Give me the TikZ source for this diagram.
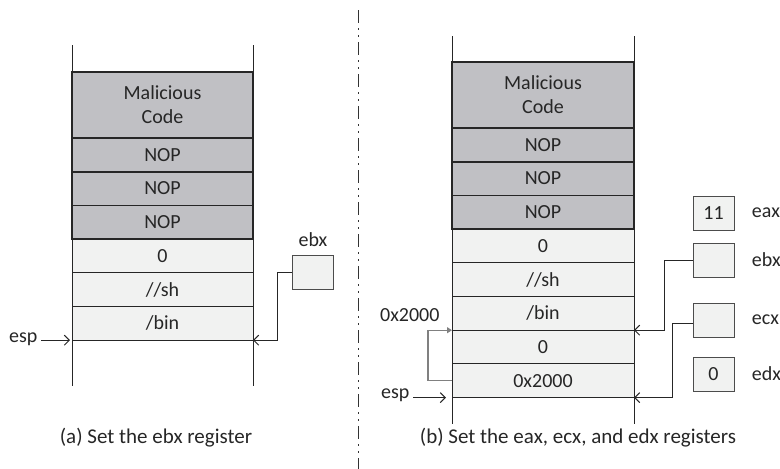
\documentclass[tikz,border=0pt]{standalone}
\usepackage{fontspec}
\setmainfont{Carlito}
\usetikzlibrary{arrows.meta,positioning}
\definecolor{darkcell}{RGB}{192,192,196}
\definecolor{lightcell}{RGB}{241,242,241}

\begin{document}
\begin{tikzpicture}[x=1pt,y=-1pt,font=\fontsize{20}{24}\selectfont,text=black!85]
    \tikzstyle{cell}=[rectangle,draw=black!85,outer sep=0pt,inner sep=0pt,align=center,minimum width=181pt,minimum height=33.7pt]
    \tikzstyle{dark}=[cell,fill=darkcell,line width=1.8pt]
    \tikzstyle{light}=[cell,fill=lightcell,line width=0.9pt]
    \tikzstyle{reg}=[rectangle,draw=black!70,fill=lightcell,line width=0.9pt,minimum width=41pt,minimum height=34pt,inner sep=0pt]
    \tikzstyle{wall}=[draw=black!85,line width=1pt]
    \tikzstyle{conn}=[draw=black!85,line width=1pt,-{Straight Barb[length=5pt,width=10pt]}]
    \tikzstyle{back}=[draw=black!50,line width=1.2pt,-{Triangle[length=5pt,width=6pt]}]
    \tikzstyle{caption}=[font=\fontsize{21}{25}\selectfont]
    \useasboundingbox (0,0) rectangle (780,469);
    % (a) left stack
    \node [dark,minimum height=66pt] (lmal) at (162.5,105) {Malicious\\Code};
    \node [dark,below=0pt of lmal] (lnop1) {NOP};
    \node [dark,below=0pt of lnop1] (lnop2) {NOP};
    \node [dark,below=0pt of lnop2] (lnop3) {NOP};
    \node [light,below=0pt of lnop3] (lzero) {0};
    \node [light,below=0pt of lzero] (lsh) {//sh};
    \node [light,below=0pt of lsh] (lbin) {/bin};
    \draw [wall] ([yshift=27pt]lmal.north west) -- ([yshift=-46pt]lbin.south west);
    \draw [wall] ([yshift=27pt]lmal.north east) -- ([yshift=-46pt]lbin.south east);
    \node [reg] (lebx) at (313,272) {};
    \node [above=4pt of lebx] (lebxlbl) {ebx};
    \draw [conn] (lebx.west) -- ++(-15,0) |- (lbin.south east);
    \node [anchor=east] (lesp) at (41,339) {esp};
    \draw [conn] (lesp.east |- lbin.south) -- ([xshift=-2pt]lbin.south west);
    \node [caption] (capa) at (156,438) {(a) Set the ebx register};
    % separator
    \draw [black!80,line width=1pt,dash pattern=on 13pt off 5pt on 1.5pt off 5.5pt on 1.5pt off 5.5pt] (358,10) -- (358,469);
    % (b) right stack
    \node [dark,minimum width=182pt,minimum height=66pt] (rmal) at (543,95) {Malicious\\Code};
    \node [dark,minimum width=182pt,below=0pt of rmal] (rnop1) {NOP};
    \node [dark,minimum width=182pt,below=0pt of rnop1] (rnop2) {NOP};
    \node [dark,minimum width=182pt,below=0pt of rnop2] (rnop3) {NOP};
    \node [light,minimum width=182pt,below=0pt of rnop3] (rzero) {0};
    \node [light,minimum width=182pt,below=0pt of rzero] (rsh) {//sh};
    \node [light,minimum width=182pt,below=0pt of rsh] (rbin) {/bin};
    \node [light,minimum width=182pt,below=0pt of rbin] (rnull) {0};
    \node [light,minimum width=182pt,below=0pt of rnull] (raddr) {0x2000};
    \draw [wall] ([yshift=26pt]rmal.north west) -- ([yshift=-26pt]raddr.south west);
    \draw [wall] ([yshift=26pt]rmal.north east) -- ([yshift=-26pt]raddr.south east);
    % registers
    \node [reg] (reax) at (713.5,213) {11};
    \node [reg] (rebx) at (713.5,260) {};
    \node [reg] (recx) at (713.5,320) {};
    \node [reg] (redx) at (713.5,374) {0};
    \node [right=14pt of reax] (reaxlbl) {eax};
    \node [right=14pt of rebx] (rebxlbl) {ebx};
    \node [right=14pt of recx] (recxlbl) {ecx};
    \node [right=14pt of redx] (redxlbl) {edx};
    \draw [conn] (rebx.west) -- ++(-28,0) |- (rbin.south east);
    \draw [conn] ([yshift=-3pt]recx.west) -- ++(-20,0) |- (raddr.south east);
    \draw [back] (raddr.west) -- ++(-24,0) |- (rbin.south west);
    \node [anchor=east] (raddrlbl) at (443,315) {0x2000};
    \node [anchor=east] (resp) at (413,395) {esp};
    \draw [conn] (resp.east |- raddr.south) -- ([xshift=-6pt]raddr.south west);
    \node [caption] (capb) at (578,438) {(b) Set the eax, ecx, and edx registers};
\end{tikzpicture}
\end{document}
